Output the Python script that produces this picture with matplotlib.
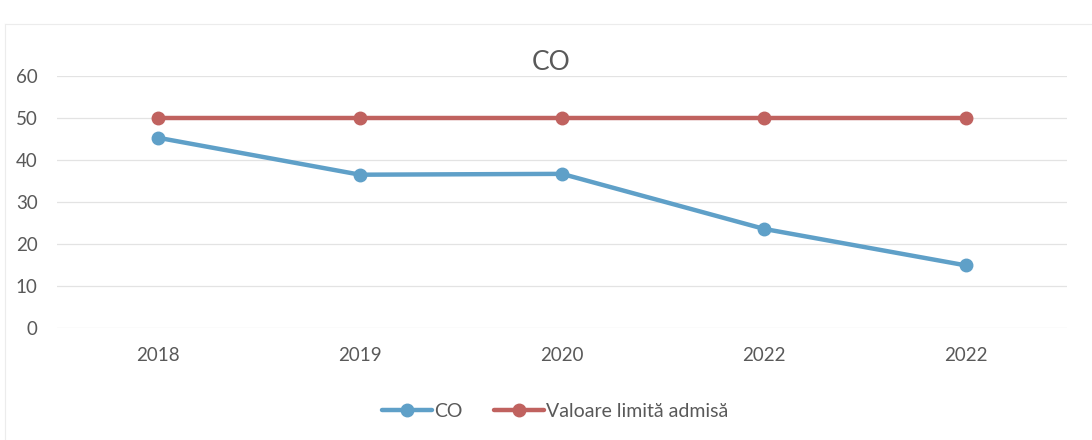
import matplotlib
matplotlib.use("Agg")
import matplotlib.pyplot as plt
from matplotlib.lines import Line2D

categories = ["2018", "2019", "2020", "2022", "2022"]
co_values = [45.3, 36.5, 36.7, 23.6, 14.9]
limit_values = [50, 50, 50, 50, 50]
y_ticks = [0, 10, 20, 30, 40, 50, 60]

plt.rcParams['font.family'] = ['Lato', 'DejaVu Sans']

blue = "#5FA0C8"
red = "#C0625F"
text_color = "#595959"

fig = plt.figure(figsize=(10.92, 4.40), dpi=100)
ax = fig.add_axes([57/1092, 1-328/440, (1067-57)/1092, (328-76)/440])

x = list(range(len(categories)))
ax.plot(x, co_values, color=blue, lw=3.2, marker="o", ms=9, label="CO", solid_capstyle="round", zorder=3)
ax.plot(x, limit_values, color=red, lw=3.2, marker="o", ms=9, label="Valoare limită admisă", solid_capstyle="round", zorder=3)

ax.set_xlim(-0.5, len(categories) - 0.5)
ax.set_ylim(0, 60)
ax.set_xticks(x)
ax.set_xticklabels(categories)
ax.set_yticks(y_ticks)
ax.tick_params(axis="both", length=0, labelsize=13.5, colors=text_color)
ax.tick_params(axis="x", pad=14)
ax.tick_params(axis="y", pad=14)
ax.grid(axis="y", color="#e3e3e3", lw=0.9)
ax.set_axisbelow(True)
for s in ax.spines.values():
    s.set_visible(False)

fig.text(551/1092, 1-63/440, "CO", ha="center", va="center", fontsize=19, color=text_color)

leg = fig.legend(loc="center", bbox_to_anchor=(555/1092, 1-411/440), ncol=2, frameon=False,
                 fontsize=14, handlelength=2.6, columnspacing=1.6, handletextpad=0.1)
for t in leg.get_texts():
    t.set_color(text_color)

# faint chart frame
fig.add_artist(Line2D([5/1092, 1], [1-24/440, 1-24/440], color="#ececec", lw=0.8))
fig.add_artist(Line2D([5/1092, 5/1092], [0, 1-24/440], color="#ececec", lw=0.8))

fig.savefig("out.png", dpi=100, facecolor="white")
